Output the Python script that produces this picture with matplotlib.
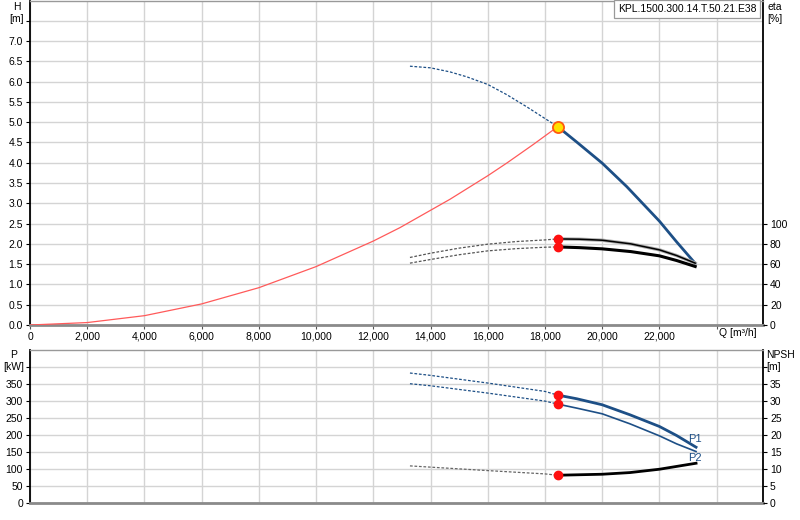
import matplotlib
matplotlib.use('Agg')
import matplotlib.pyplot as plt
from matplotlib.ticker import FuncFormatter, MultipleLocator, FixedLocator

plt.rcParams['font.family'] = ['Liberation Sans', 'DejaVu Sans']
plt.rcParams['font.size'] = 7.5

# pump head H [m] over Q [m3/h]
q_h_dash = [13280, 14000, 14680, 15260, 16000, 16660, 17360, 18000, 18445]
h_dash = [6.38, 6.34, 6.24, 6.12, 5.93, 5.68, 5.38, 5.09, 4.89]
q_h = [18445, 19110, 20000, 20860, 22000, 22600, 23250]
h = [4.89, 4.51, 3.99, 3.41, 2.56, 2.05, 1.52]

# system curve
q_sys = [0, 2000, 4000, 6000, 8000, 10000, 12000, 12930, 14680, 16000, 16660, 17590, 18445]
h_sys = [0, 0.06, 0.23, 0.52, 0.92, 1.44, 2.07, 2.40, 3.10, 3.68, 3.99, 4.45, 4.89]

# efficiency curves [%]
q_eta_dash = [13280, 14000, 15000, 16000, 17000, 18000, 18445]
eta1_dash = [66.6, 70.8, 75.8, 79.7, 82.3, 83.9, 84.9]
eta2_dash = [61.0, 64.6, 69.3, 73.1, 75.3, 76.7, 77.0]
q_eta = [18445, 19200, 20000, 21000, 22000, 22600, 23250]
eta1 = [84.9, 84.6, 83.6, 80.0, 74.1, 68.5, 61.0]
eta2 = [77.0, 76.3, 75.1, 72.4, 68.2, 63.6, 57.7]

# power P [kW]
q_p_dash = [13280, 14000, 16000, 18000, 18445]
p1_dash = [382.4, 375.5, 353.0, 328.4, 317.6]
p2_dash = [351.0, 345.0, 323.5, 300.0, 291.2]
q_p = [18445, 19110, 20000, 20970, 22000, 22600, 23280]
p1 = [317.6, 306.9, 289.2, 259.8, 225.5, 199.0, 164.7]
p2 = [291.2, 279.4, 262.7, 233.3, 198.0, 174.5, 152.0]

# NPSH [m]
q_n_dash = [13280, 16000, 18000, 18445]
npsh_dash = [10.98, 9.6, 8.63, 8.24]
q_n = [18445, 20000, 20970, 22000, 23280]
npsh = [8.24, 8.53, 9.02, 10.0, 11.76]

# duty point
q_op = 18445
h_op = 4.89

x_ticks = list(range(0, 24001, 2000))
blue = '#1d4f86'
grid_c = '#d4d4d4'
dash = (0, (2.2, 1.4))

fig = plt.figure(figsize=(8, 5.2), dpi=100)
W, H = 800, 520
ax1 = fig.add_axes([30 / W, 1 - 325 / H, 733 / W, 324.5 / H])
ax2 = fig.add_axes([30 / W, 1 - 503.3 / H, 733 / W, 153.3 / H])


def style(ax, ylim, ystep):
    ax.set_xlim(0, 25620)
    ax.set_ylim(0, ylim)
    ax.xaxis.set_major_locator(FixedLocator(x_ticks))
    ax.yaxis.set_major_locator(MultipleLocator(ystep))
    ax.grid(True, color=grid_c, lw=1, zorder=0)
    ax.set_axisbelow(True)
    ax.spines['left'].set_color('black')
    ax.spines['left'].set_linewidth(1.3)
    ax.spines['right'].set_color('black')
    ax.spines['right'].set_linewidth(1.3)
    ax.spines['bottom'].set_color('#8a8a8a')
    ax.spines['bottom'].set_linewidth(2)
    ax.spines['top'].set_color('#999999')
    ax.spines['top'].set_linewidth(1)
    ax.tick_params(axis='y', length=3, width=0.8, pad=2, colors='black')


style(ax1, 8.0, 0.5)
ax1.set_yticks([v * 0.5 for v in range(16)])
ax1.yaxis.set_major_formatter(FuncFormatter(lambda v, p: '%.1f' % v if v <= 7.01 else ''))
ax1.xaxis.set_major_formatter(FuncFormatter(lambda v, p: '' if v > 23000 else '{:,}'.format(int(v))))
ax1.tick_params(axis='x', length=3, width=0.8, pad=2, color='#555555')

style(ax2, 450, 50)
ax2.set_yticks(list(range(0, 401, 50)))
ax2.yaxis.set_major_formatter(FuncFormatter(lambda v, p: '%d' % v if v <= 351 else ''))
ax2.tick_params(axis='x', length=0, labelbottom=False)

# right axes
ax1r = ax1.twinx()
ax1r.set_ylim(0, 320)
ax1r.set_yticks(list(range(0, 101, 20)))
ax1r.tick_params(axis='y', length=3, width=0.8, pad=2)
for s in ax1r.spines.values():
    s.set_visible(False)

ax2r = ax2.twinx()
ax2r.set_ylim(0, 45)
ax2r.set_yticks(list(range(0, 41, 5)))
ax2r.yaxis.set_major_formatter(FuncFormatter(lambda v, p: '%d' % v if v <= 35.1 else ''))
ax2r.tick_params(axis='y', length=3, width=0.8, pad=2)
for s in ax2r.spines.values():
    s.set_visible(False)

# top panel curves
ax1.plot(q_sys, h_sys, color='#ff5a5a', lw=0.9, zorder=3)
ax1.plot(q_h_dash, h_dash, color=blue, lw=0.9, ls=dash, zorder=3)
ax1.plot(q_h, h, color=blue, lw=2, zorder=4)
ax1r.plot(q_eta_dash, eta1_dash, color='#555555', lw=0.9, ls=dash)
ax1r.plot(q_eta_dash, eta2_dash, color='#555555', lw=0.9, ls=dash)
ax1r.plot(q_eta, eta1, color='#aaaaaa', lw=2.4)
ax1r.plot(q_eta, eta1, color='black', lw=1.1)
ax1r.plot(q_eta, eta2, color='black', lw=2.2)
ax1r.plot([q_op, q_op], [eta1[0], eta2[0]], 'o', color='#ff1010', ms=6, zorder=6)
ax1r.plot([q_op], [h_op * 40], 'o', mfc='#ffe100', mec='#ff5a10', mew=1.3, ms=8, zorder=7)

# bottom panel curves
ax2.plot(q_p_dash, p1_dash, color=blue, lw=0.9, ls=dash)
ax2.plot(q_p_dash, p2_dash, color=blue, lw=0.9, ls=dash)
ax2.plot(q_p, p1, color=blue, lw=2)
ax2.plot(q_p, p2, color=blue, lw=1.2)
ax2.plot([q_op, q_op], [p1[0], p2[0]], 'o', color='#ff1010', ms=6, zorder=6)
ax2r.plot(q_n_dash, npsh_dash, color='#666666', lw=0.9, ls=dash)
ax2r.plot(q_n, npsh, color='black', lw=2)
ax2r.plot([q_op], [npsh[0]], 'o', color='#ff1010', ms=6, zorder=6)
ax2.text(23250, 189, 'P1', color=blue, fontsize=8, ha='center', va='center')
ax2.text(23250, 133, 'P2', color=blue, fontsize=8, ha='center', va='center')

# axis captions
fig.text(17 / W, 1 - 2 / H, 'H\n[m]', ha='center', va='top', fontsize=7.5, linespacing=1.2)
fig.text(767 / W, 1 - 2 / H, 'eta\n[%]', ha='left', va='top', fontsize=7.5, linespacing=1.2)
fig.text(14 / W, 1 - 350 / H, 'P\n[kW]', ha='center', va='top', fontsize=7.5, linespacing=1.2)
fig.text(766 / W, 1 - 350 / H, 'NPSH\n[m]', ha='left', va='top', fontsize=7.5, linespacing=1.2)
fig.text(738 / W, 1 - 333 / H, 'Q [m³/h]', ha='center', va='center', fontsize=7.5)
fig.text(687 / W, 1 - 9 / H, 'KPL.1500.300.14.T.50.21.E38', ha='center', va='center', fontsize=7.5,
         bbox=dict(boxstyle='square,pad=0.35', fc='white', ec='#999999', lw=0.9))

fig.savefig('out.png', dpi=100)
